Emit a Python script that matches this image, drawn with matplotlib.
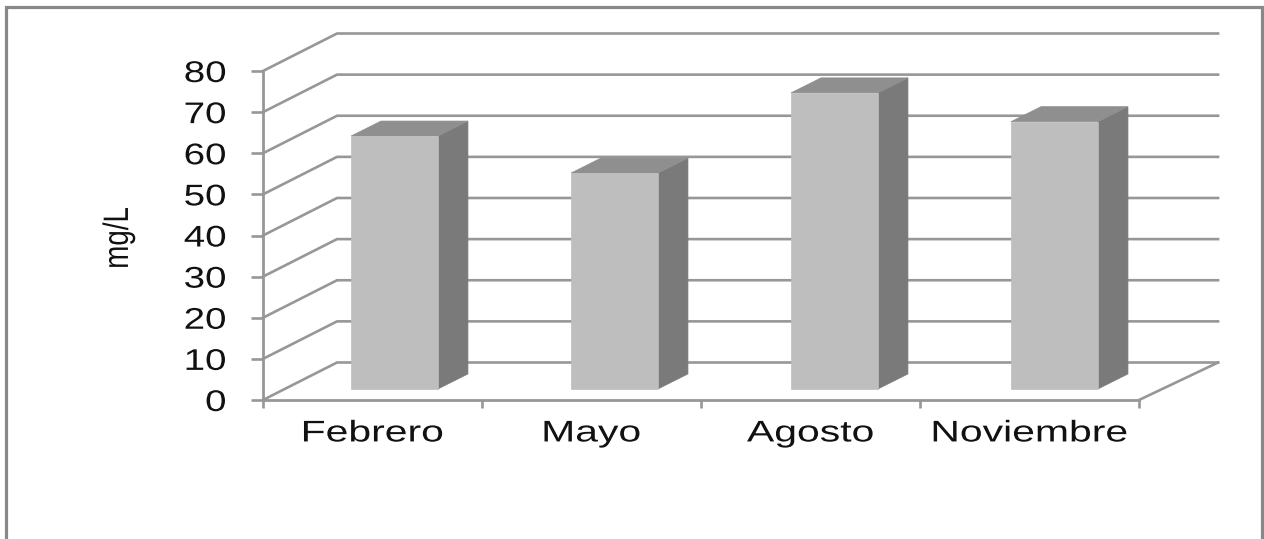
import matplotlib
matplotlib.use("Agg")
import matplotlib.pyplot as plt
from matplotlib.lines import Line2D
from matplotlib.patches import Polygon
from matplotlib.patheffects import AbstractPathEffect
from matplotlib.transforms import Affine2D

# Data
months = ["Febrero", "Mayo", "Agosto", "Noviembre"]
concentration = [61.5, 52.5, 72, 65]
y_ticks = [0, 10, 20, 30, 40, 50, 60, 70, 80]

# Style
GRID = "#979797"
FRAME = "#888888"
FRONT = "#BEBEBE"
TOP = "#8F8F8F"
SIDE = "#7A7A7A"
TEXT = "#111111"

# Oblique projection, in data units of the front plane
WALL_DX_LEFT, WALL_DX_RIGHT, WALL_DY = 0.338, 0.361, 9.12
BAR_WIDTH = 0.397
BAR_PITCH = 1.0046
BAR_SHIFT_X, BAR_SHIFT_Y = 0.098, 2.68
BAR_DX, BAR_DY = 0.137, 3.65


class Widen(AbstractPathEffect):
    """Stretches glyphs horizontally on the page around a chosen edge."""

    def __init__(self, factor, anchor="center"):
        super().__init__()
        self.factor = factor
        self.anchor = anchor

    def draw_path(self, renderer, gc, tpath, affine, rgbFace=None):
        box = tpath.transformed(affine).get_extents()
        x0 = box.x1 if self.anchor == "right" else (box.x0 + box.x1) / 2
        widen = Affine2D().translate(-x0, 0).scale(self.factor, 1).translate(x0, 0)
        renderer.draw_path(gc, tpath, affine + widen, rgbFace)


plt.rcParams["font.family"] = ["Liberation Sans", "DejaVu Sans"]
W, H = 1264, 539
fig = plt.figure(figsize=(W / 100, H / 100), dpi=100, facecolor="white")
ax = fig.add_axes([263 / W, 1 - 400 / H, (1139 - 263) / W, (400 - 71) / H])
ax.set_xlim(0, len(months))
ax.set_ylim(0, 80)
ax.patch.set_visible(False)

# Outer frame, open at the bottom
fig.add_artist(Line2D([5.5 / W, 5.5 / W, 1261.5 / W, 1261.5 / W],
                      [0, 1 - 6.5 / H, 1 - 6.5 / H, 0],
                      color=FRAME, lw=2.3, solid_joinstyle="miter"))

# Back wall gridlines with their diagonals to the front plane
n = len(months)
for v in y_ticks:
    ax.plot([0, WALL_DX_LEFT, n + WALL_DX_RIGHT], [v, v + WALL_DY, v + WALL_DY],
            color=GRID, lw=1.9, clip_on=False, zorder=1,
            solid_joinstyle="miter")
ax.plot([n, n + WALL_DX_RIGHT], [0, WALL_DY], color=GRID, lw=1.9,
        clip_on=False, zorder=1)

# Bars as three visible faces of a box
for i, value in enumerate(concentration):
    x0 = (i + 0.5) * BAR_PITCH + BAR_SHIFT_X - BAR_WIDTH / 2
    x1 = x0 + BAR_WIDTH
    y0 = BAR_SHIFT_Y
    y1 = y0 + value
    side = [(x1, y0), (x1 + BAR_DX, y0 + BAR_DY), (x1 + BAR_DX, y1 + BAR_DY), (x1, y1)]
    top = [(x0, y1), (x0 + BAR_DX, y1 + BAR_DY), (x1 + BAR_DX, y1 + BAR_DY), (x1, y1)]
    front = [(x0, y0), (x1, y0), (x1, y1), (x0, y1)]
    for face, color in ((side, SIDE), (top, TOP), (front, FRONT)):
        ax.add_patch(Polygon(face, closed=True, facecolor=color, edgecolor=color,
                             lw=0.5, clip_on=False, zorder=3))

# Axes
for name in ("top", "right"):
    ax.spines[name].set_visible(False)
for name in ("left", "bottom"):
    ax.spines[name].set_color(GRID)
    ax.spines[name].set_linewidth(2.0)
    ax.spines[name].set_zorder(2)

ax.set_yticks(y_ticks)
ax.tick_params(axis="y", length=8.6, width=1.9, color=GRID, pad=18,
               labelsize=21.5, labelcolor=TEXT)
ax.set_xticks(range(n + 1))
ax.set_xticklabels([])
ax.tick_params(axis="x", which="major", length=5.5, width=1.9, color=GRID)
ax.set_xticks([i + 0.5 for i in range(n)], minor=True)
ax.set_xticklabels(months, minor=True)
ax.tick_params(axis="x", which="minor", length=0, pad=14,
               labelsize=21.5, labelcolor=TEXT)

for label in ax.get_yticklabels():
    label.set_path_effects([Widen(1.29, "right")])
for label in ax.get_xticklabels(minor=True):
    label.set_path_effects([Widen(1.37)])

ylabel = ax.set_ylabel("mg/L", fontsize=20, color=TEXT, rotation=90, va="center")
ax.yaxis.set_label_coords((119 - 263) / (1139 - 263), (400 - 238) / (400 - 71))
ylabel.set_path_effects([Widen(1.27)])

fig.savefig("out.png", dpi=100, facecolor="white")
